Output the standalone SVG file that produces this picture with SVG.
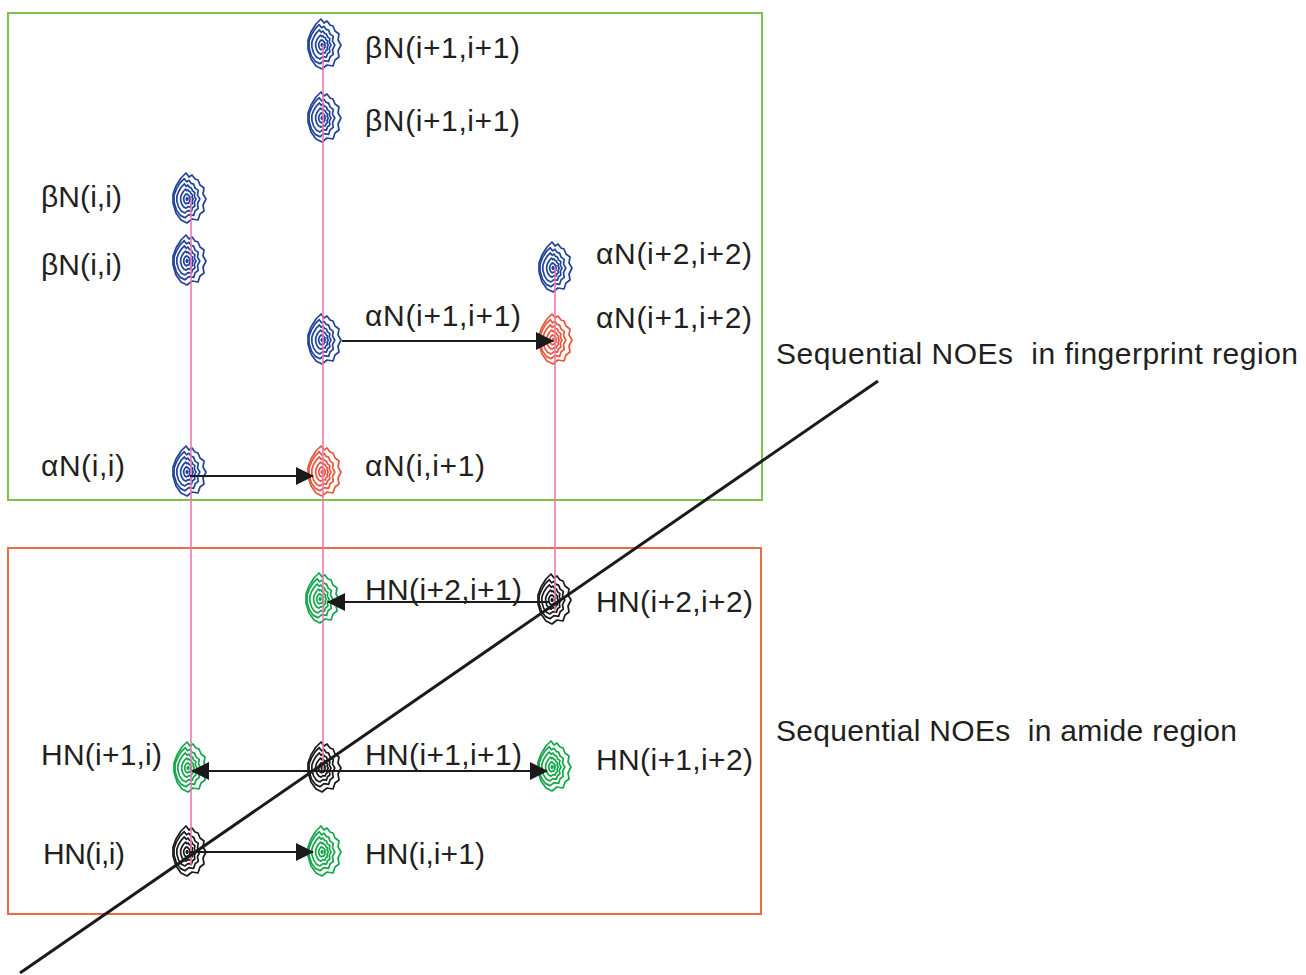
<svg xmlns="http://www.w3.org/2000/svg" width="1306" height="975" viewBox="0 0 1306 975">
<style>
text{font-family:"Liberation Sans",Arial,sans-serif;font-size:30px;fill:#231f20}
.b{stroke:#22439c}
.r{stroke:#e8563b}
.g{stroke:#13a64a}
.k{stroke:#1a1a1a}
.pink{stroke:#ea78b3;stroke-width:1.6;fill:none}
.ar{stroke:#1a1a1a;stroke-width:2;fill:none;marker-end:url(#ah)}
</style>
<defs>
<marker id="ah" viewBox="0 0 18 18" refX="17" refY="9" markerWidth="18" markerHeight="18" markerUnits="userSpaceOnUse" orient="auto">
<path d="M0,0 L18,9 L0,18 Z" fill="#1a1a1a"/>
</marker>
<path id="ct" fill="none" stroke-width="1.7" vector-effect="non-scaling-stroke" stroke-linejoin="round" d="M-1,-26 L2,-22 5,-24 8,-20 11,-19 13,-14 17,-11 16,-5 19,0 16,6 17,12 13,15 11,21 5,20 0,24 -6,21 -11,14 -14,4 -14,-5 -11,-13 -6,-21 Z"/>
<g id="pk">
<use href="#ct"/>
<use href="#ct" transform="translate(-2,0) scale(0.78)"/>
<use href="#ct" transform="translate(-2,0) scale(0.58)"/>
<use href="#ct" transform="translate(-1,0) scale(0.38)"/>
<use href="#ct" transform="translate(-0.5,0) scale(0.2)"/>
<use href="#ct" transform="scale(0.05)"/>
</g>
</defs>
<rect width="1306" height="975" fill="#fff"/>
<g id="regions">
<rect x="8" y="13" width="754" height="487" fill="none" stroke="#7dc24b" stroke-width="2"/>
<rect x="8" y="548" width="753" height="366" fill="none" stroke="#ee6a45" stroke-width="2"/>
</g>
<g id="peaks">
<g id="p1" class="b"><use href="#pk" transform="translate(322,45)"/></g>
<g id="p2" class="b"><use href="#pk" transform="translate(322,118)"/></g>
<g id="p3" class="b"><use href="#pk" transform="translate(187,199)"/></g>
<g id="p4" class="b"><use href="#pk" transform="translate(187,261)"/></g>
<g id="p5" class="b"><use href="#pk" transform="translate(553,268)"/></g>
<g id="p6" class="r"><use href="#pk" transform="translate(553,340)"/></g>
<g id="p7" class="b"><use href="#pk" transform="translate(322,340)"/></g>
<g id="p8" class="b"><use href="#pk" transform="translate(187,472)"/></g>
<g id="p9" class="r"><use href="#pk" transform="translate(322,472)"/></g>
<g id="p10" class="g"><use href="#pk" transform="translate(320,599)"/></g>
<g id="p11" class="k"><use href="#pk" transform="translate(552,600)"/></g>
<g id="p12" class="g"><use href="#pk" transform="translate(188,768)"/></g>
<g id="p13" class="k"><use href="#pk" transform="translate(322,768)"/></g>
<g id="p14" class="g"><use href="#pk" transform="translate(552,767)"/></g>
<g id="p15" class="k"><use href="#pk" transform="translate(187,852)"/></g>
<g id="p16" class="g"><use href="#pk" transform="translate(322,852)"/></g>
</g>
<g id="connectors">
<line class="pink" x1="191" y1="198" x2="191" y2="866"/>
<line class="pink" x1="323" y1="45" x2="323" y2="770"/>
<line class="pink" x1="555" y1="267" x2="555" y2="612"/>
<line class="ar" x1="342" y1="341" x2="553" y2="341"/>
<line class="ar" x1="190" y1="476" x2="313" y2="476"/>
<line class="ar" x1="550" y1="602" x2="328" y2="602"/>
<line class="ar" x1="322" y1="771" x2="192" y2="771"/>
<line class="ar" x1="322" y1="771" x2="547" y2="771"/>
<line class="ar" x1="190" y1="852" x2="313" y2="852"/>
<line x1="20" y1="973" x2="878" y2="381" stroke="#1a1a1a" stroke-width="3"/>
</g>
<g id="labels">
<text x="365" y="58" textLength="155">βN(i+1,i+1)</text>
<text x="365" y="131" textLength="155">βN(i+1,i+1)</text>
<text x="41" y="207" textLength="81">βN(i,i)</text>
<text x="41" y="275" textLength="81">βN(i,i)</text>
<text x="596" y="264" textLength="156">αN(i+2,i+2)</text>
<text x="596" y="328" textLength="156">αN(i+1,i+2)</text>
<text x="365" y="326" textLength="156">αN(i+1,i+1)</text>
<text x="41" y="476" textLength="84">αN(i,i)</text>
<text x="365" y="476" textLength="120">αN(i,i+1)</text>
<text x="365" y="600" textLength="157">HN(i+2,i+1)</text>
<text x="596" y="612" textLength="157">HN(i+2,i+2)</text>
<text x="41" y="765" textLength="121">HN(i+1,i)</text>
<text x="365" y="765" textLength="157">HN(i+1,i+1)</text>
<text x="596" y="770" textLength="157">HN(i+1,i+2)</text>
<text x="43" y="864" textLength="82">HN(i,i)</text>
<text x="365" y="864" textLength="120">HN(i,i+1)</text>
<text x="776" y="364" textLength="522" style="white-space:pre">Sequential NOEs  in fingerprint region</text>
<text x="776" y="741" textLength="461" style="white-space:pre">Sequential NOEs  in amide region</text>
</g>
</svg>
